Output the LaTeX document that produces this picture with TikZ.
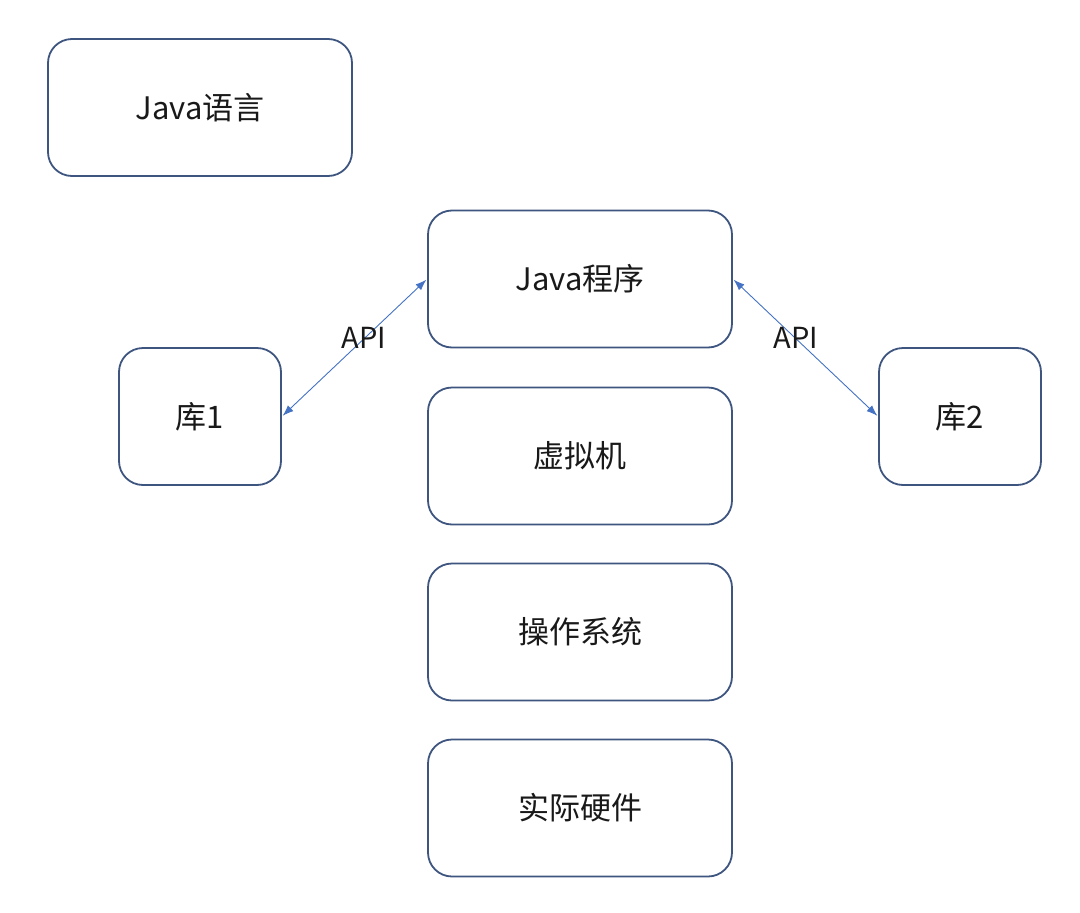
\documentclass[tikz,border=0pt]{standalone}
\usepackage{fontspec}
\setmainfont{Noto Sans CJK SC}
\usetikzlibrary{arrows.meta}
\definecolor{boxline}{HTML}{3E5580}
\definecolor{arrowblue}{HTML}{4472C4}
\begin{document}
\begin{tikzpicture}[x=1pt,y=-1pt,
  box/.style={draw=boxline,line width=1.8pt,rounded corners=24pt,fill=white,
    minimum width=304pt,minimum height=137pt,inner sep=0pt,font=\fontsize{31}{36}\selectfont,text=black!90},
  smallbox/.style={box,minimum width=162pt},
  api/.style={draw=arrowblue,line width=0.9pt,{Latex[length=11pt,width=8pt]}-{Latex[length=11pt,width=8pt]},shorten <=1pt,shorten >=1pt},
  lbl/.style={font=\fontsize{29}{34}\selectfont,text=black!90}]
\useasboundingbox (0,0) rectangle (1080,913);
\node[box] (lang) at (200,107.5) {Java语言};
\node[box] (prog) at (580,279) {Java程序};
\node[box] (vm) at (580,456) {虚拟机};
\node[box] (os) at (580,632) {操作系统};
\node[box] (hw) at (580,808) {实际硬件};
\node[smallbox] (lib1) at (200,416.5) {库1};
\node[smallbox] (lib2) at (960,416.5) {库2};
\draw[api] (lib1.east) -- (prog.west);
\draw[api] (prog.east) -- (lib2.west);
\node[lbl] (api1) at (364,338) {API};
\node[lbl] (api2) at (796,338) {API};
\end{tikzpicture}
\end{document}
